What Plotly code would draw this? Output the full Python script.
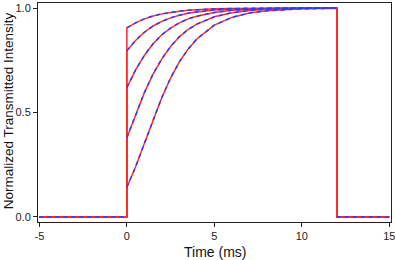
import plotly.graph_objects as go

# time points (ms) along the rising curves
t_rise = [0, 0.5, 1, 1.5, 2, 2.5, 3, 3.5, 4, 5, 6, 7, 8, 10, 12]
curve1 = [0.905, 0.929, 0.948, 0.962, 0.972, 0.979, 0.985, 0.989, 0.992, 0.996, 0.998, 0.999, 0.999, 1.0, 1.0]
curve2 = [0.795, 0.845, 0.884, 0.914, 0.936, 0.953, 0.965, 0.975, 0.981, 0.990, 0.995, 0.997, 0.998, 1.0, 1.0]
curve3 = [0.619, 0.704, 0.773, 0.829, 0.872, 0.904, 0.929, 0.948, 0.961, 0.979, 0.989, 0.994, 0.997, 0.999, 1.0]
curve4 = [0.379, 0.492, 0.595, 0.684, 0.757, 0.816, 0.862, 0.897, 0.923, 0.958, 0.977, 0.988, 0.994, 0.998, 1.0]
curve5 = [0.142, 0.240, 0.352, 0.466, 0.572, 0.665, 0.742, 0.803, 0.852, 0.918, 0.955, 0.976, 0.987, 0.996, 0.999]
curves = [curve1, curve2, curve3, curve4, curve5]

t_before = [-5, 0]
t_after = [12, 15]
baseline = [0, 0]

x_ticks = [-5, 0, 5, 10, 15]
y_ticks = [0, 0.5, 1.0]

FONT = "Liberation Sans, Arial"

fig = go.Figure()

# red solid step traces (with vertical edges)
for c in curves:
    xs = t_before + t_rise + t_after
    ys = baseline + c + baseline
    fig.add_trace(go.Scatter(x=xs, y=ys, mode="lines",
                             line=dict(color="#ff2a2a", width=1.5),
                             hoverinfo="skip", showlegend=False))

# blue dashed fits (no vertical edges)
blue = dict(color="#2b3cff", width=1.5, dash="4px,4px")
fig.add_trace(go.Scatter(x=t_before, y=baseline, mode="lines", line=blue, showlegend=False))
fig.add_trace(go.Scatter(x=t_after, y=baseline, mode="lines", line=blue, showlegend=False))
for c in curves:
    fig.add_trace(go.Scatter(x=t_rise, y=c, mode="lines", line=blue, showlegend=False))

axis_common = dict(showgrid=False, zeroline=False, showline=True, mirror=True,
                   linecolor="#222222", linewidth=1, ticks="outside", ticklen=4,
                   tickcolor="#222222", automargin=False, ticklabeloverflow="allow",
                   tickfont=dict(family=FONT, size=11, color="#222222"))

fig.update_layout(
    width=395, height=260,
    margin=dict(l=38, r=4, t=3, b=38, autoexpand=False),
    paper_bgcolor="white", plot_bgcolor="white",
    hovermode=False,
    xaxis=dict(range=[-5.08, 15.1], tickvals=x_ticks, ticktext=[str(v) for v in x_ticks],
               **axis_common),
    yaxis=dict(range=[-0.024, 1.024], tickvals=y_ticks, tickformat=".1f",
               **axis_common),
    annotations=[
        dict(text="Time (ms)", xref="paper", yref="paper", x=0.5, y=-0.135,
             xanchor="center", yanchor="middle", showarrow=False,
             font=dict(family=FONT, size=14, color="#111111")),
        dict(text="Normalized Transmitted Intensity", xref="paper", yref="paper",
             x=-0.085, y=0.51, xanchor="center", yanchor="middle", textangle=-90,
             showarrow=False, font=dict(family=FONT, size=13.5, color="#111111")),
    ],
)

fig.write_html("out.html", config={"displayModeBar": False},
               post_script="document.body.style.margin='0';document.body.style.padding='0';")
